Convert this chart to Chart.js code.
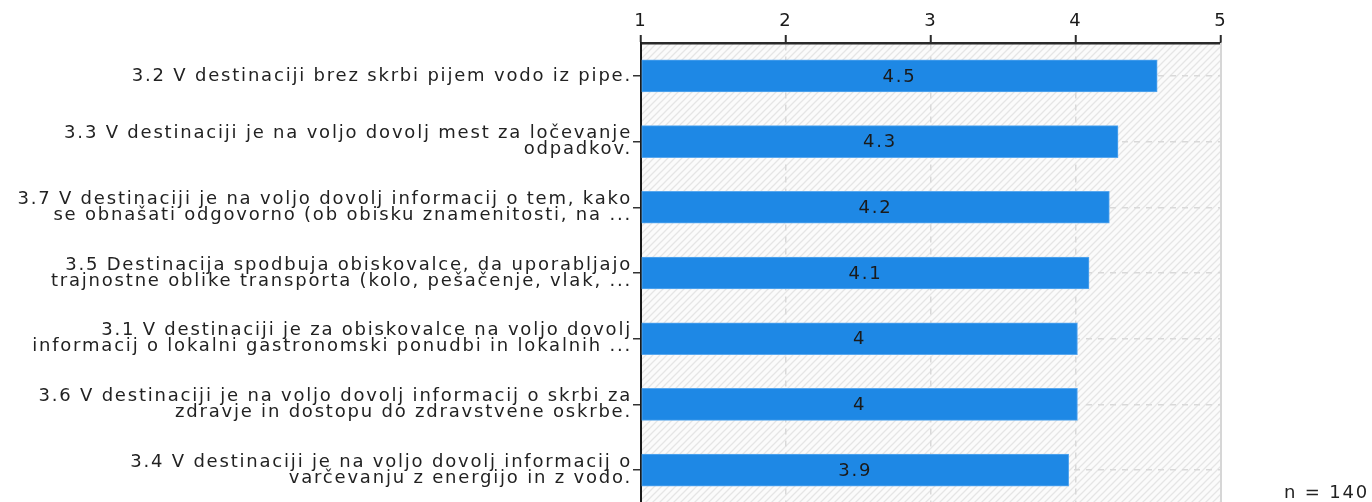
<!DOCTYPE html>
<html>
<head>
<meta charset="utf-8">
<script src="https://cdn.jsdelivr.net/npm/chart.js@4"></script>
<style>
  html, body { margin: 0; padding: 0; background: #fff; overflow: hidden; }
  #wrap { width: 1372px; height: 520px; }
</style>
</head>
<body>
<div id="wrap"><canvas id="chart" width="1372" height="520"></canvas></div>
<script>
const categories = [
  ['3.2 V destinaciji brez skrbi pijem vodo iz pipe.'],
  ['3.3 V destinaciji je na voljo dovolj mest za ločevanje', 'odpadkov.'],
  ['3.7 V destinaciji je na voljo dovolj informacij o tem, kako', 'se obnašati odgovorno (ob obisku znamenitosti, na ...'],
  ['3.5 Destinacija spodbuja obiskovalce, da uporabljajo', 'trajnostne oblike transporta (kolo, pešačenje, vlak, ...'],
  ['3.1 V destinaciji je za obiskovalce na voljo dovolj', 'informacij o lokalni gastronomski ponudbi in lokalnih ...'],
  ['3.6 V destinaciji je na voljo dovolj informacij o skrbi za', 'zdravje in dostopu do zdravstvene oskrbe.'],
  ['3.4 V destinaciji je na voljo dovolj informacij o', 'varčevanju z energijo in z vodo.']
];
const averages = [4.56, 4.29, 4.23, 4.09, 4.01, 4.01, 3.95];
const averageLabels = ['4.5', '4.3', '4.2', '4.1', '4', '4', '3.9'];
const scaleTicks = [1, 2, 3, 4, 5];
const sampleSize = 'n = 140';

const FONT = 'DejaVu Sans';
const SIZE = 18;
const SPACING = '1.8px';

// hatched plot background
function makeHatch() {
  const s = 7;
  const c = document.createElement('canvas');
  c.width = s; c.height = s;
  const g = c.getContext('2d');
  g.fillStyle = '#fbfbfb';
  g.fillRect(0, 0, s, s);
  g.strokeStyle = '#e5e5e5';
  g.lineWidth = 1.3;
  g.beginPath();
  g.moveTo(-1, s + 1); g.lineTo(s + 1, -1);
  g.moveTo(-2, 2); g.lineTo(2, -2);
  g.moveTo(s - 2, s + 2); g.lineTo(s + 2, s - 2);
  g.stroke();
  return g.createPattern(c, 'repeat');
}

const spacingPlugin = {
  id: 'spacing',
  beforeUpdate(chart) { chart.ctx.letterSpacing = SPACING; },
  beforeDraw(chart) { chart.ctx.letterSpacing = SPACING; }
};

const backgroundPlugin = {
  id: 'hatch',
  beforeDraw(chart) {
    const { ctx, chartArea: a } = chart;
    ctx.save();
    ctx.fillStyle = makeHatch();
    ctx.fillRect(a.left, a.top, a.right - a.left, a.bottom - a.top);
    ctx.restore();
  },
  beforeDatasetsDraw(chart) {
    const { ctx, chartArea: a } = chart;
    ctx.save();
    ctx.strokeStyle = '#d6d6d6';
    ctx.lineWidth = 2;
    ctx.beginPath();
    ctx.moveTo(a.right, a.top);
    ctx.lineTo(a.right, a.bottom);
    ctx.stroke();
    ctx.restore();
  }
};

const valueLabelPlugin = {
  id: 'valueLabels',
  afterDatasetsDraw(chart) {
    const { ctx } = chart;
    const meta = chart.getDatasetMeta(0);
    ctx.save();
    ctx.letterSpacing = SPACING;
    ctx.font = `${SIZE}px "${FONT}"`;
    ctx.fillStyle = '#1a1a1a';
    ctx.textAlign = 'center';
    ctx.textBaseline = 'middle';
    meta.data.forEach((bar, i) => {
      ctx.fillText(averageLabels[i], (bar.x + bar.base) / 2, bar.y + 1);
    });
    ctx.restore();
  },
  afterDraw(chart) {
    const { ctx } = chart;
    ctx.save();
    ctx.letterSpacing = SPACING;
    ctx.font = `${SIZE}px "${FONT}"`;
    ctx.fillStyle = '#222';
    ctx.textAlign = 'right';
    ctx.textBaseline = 'alphabetic';
    ctx.fillText(sampleSize, 1369, 498);
    ctx.restore();
  }
};

new Chart(document.getElementById('chart'), {
  type: 'bar',
  data: {
    labels: categories,
    datasets: [{
      data: averages,
      base: 1,
      backgroundColor: '#1e88e5',
      borderColor: '#5aa8ee',
      borderWidth: 1,
      borderSkipped: false,
      barThickness: 32
    }]
  },
  options: {
    indexAxis: 'y',
    responsive: false,
    animation: false,
    layout: { padding: { left: 0, right: 151, top: 0, bottom: 17 } },
    plugins: { legend: { display: false }, tooltip: { enabled: false } },
    scales: {
      x: {
        position: 'top',
        min: 1,
        max: 5,
        afterBuildTicks(scale) { scale.ticks = scaleTicks.map(v => ({ value: v })); },
        afterFit(scale) { scale.height = 43; },
        border: { display: true, color: '#2a2a2a', width: 2.5, dash: [6, 6] },
        grid: {
          color: ctx => (ctx.tick && (ctx.tick.value === 1 || ctx.tick.value === 5)) ? 'rgba(0,0,0,0)' : '#d9d9d9',
          lineWidth: 1.5,
          tickColor: '#2a2a2a',
          tickLength: 8,
          tickWidth: 2
        },
        ticks: {
          color: '#1a1a1a',
          padding: 3,
          font: { family: FONT, size: SIZE }
        }
      },
      y: {
        afterFit(scale) { scale.width = 641; },
        border: { display: true, color: '#1a1a1a', width: 2, dash: [6, 6] },
        grid: {
          offset: false,
          color: '#d9d9d9',
          lineWidth: 1.5,
          tickColor: '#333',
          tickLength: 8,
          tickWidth: 1.5
        },
        ticks: {
          color: '#222',
          padding: 1,
          font: { family: FONT, size: SIZE, lineHeight: 0.9 }
        }
      }
    }
  },
  plugins: [spacingPlugin, backgroundPlugin, valueLabelPlugin]
});
</script>
</body>
</html>
